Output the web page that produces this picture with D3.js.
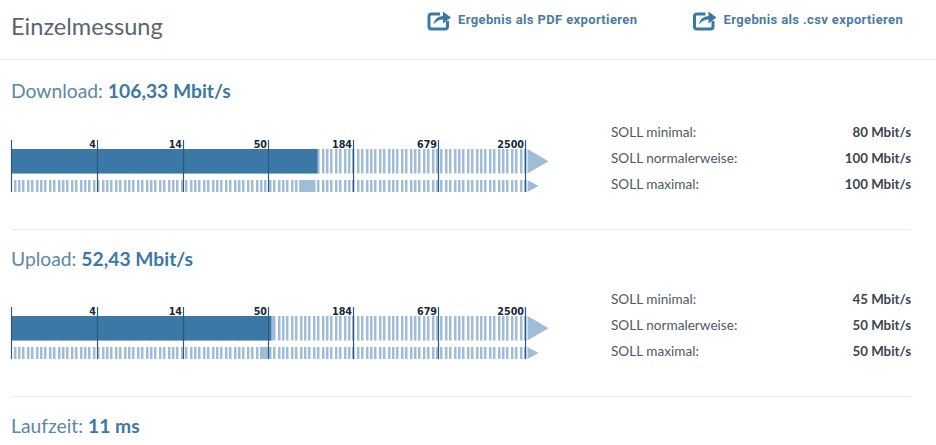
<!DOCTYPE html>
<html><head><meta charset="utf-8">
<script src="https://cdn.jsdelivr.net/npm/d3@7"></script>
<style>html,body{margin:0;padding:0;background:#fff;overflow:hidden}svg{display:block}</style>
</head><body><svg id="c" width="936" height="445"></svg>
<script>
const title = "Einzelmessung";
const exportLabels = ["Ergebnis als PDF exportieren", "Ergebnis als .csv exportieren"];
const tickValues = [4, 14, 50, 184, 679, 2500];
const scaleDomain = [1.1, 4, 14, 50, 184, 679, 2500];
const metricNames = ["Download", "Upload"];
const metricValues = [106.33, 52.43];
const metricLabels = ["106,33 Mbit/s", "52,43 Mbit/s"];
const sollNames = ["SOLL minimal:", "SOLL normalerweise:", "SOLL maximal:"];
const sollDownload = [80, 100, 100];
const sollUpload = [45, 50, 50];
const lastName = "Laufzeit";
const lastLabel = "11 ms";

const BLUE="#3c78a6", LIGHT="#9fbdd6", DARK="#2b5a7e", TEXT="#5a6670", INK="#16283a";
const FONT="Lato, 'Noto Sans', sans-serif";
const svg=d3.select("#c");
svg.style("font-family",FONT);

const x=d3.scaleLog().domain(scaleDomain).range([11.5,97.5,183,268.5,353.5,438.5,525.5]);

svg.append("text").attr("x",11).attr("y",35).attr("font-size",23.6).attr("fill",TEXT).text(title);
svg.append("line").attr("x1",0).attr("x2",936).attr("y1",59.5).attr("y2",59.5).attr("stroke","#eeeeee");

const icon=(g)=>{
  g.append("path").attr("d","M12 5H3.5Q1 5 1 7.5V17.5Q1 20 3.5 20H17Q19.5 20 19.5 17.5V12").attr("fill","none").attr("stroke",BLUE).attr("stroke-width",3);
  g.append("path").attr("d","M5.5 15.5Q6.5 7.5 15 7V2.5L23 8.5L15 14.5V10.5Q9.5 10.5 5.5 15.5Z").attr("fill",BLUE);
};
exportLabels.forEach((t,i)=>{
  const xs=[428,693.5][i];
  const g=svg.append("g").attr("transform",`translate(${xs},9)`);icon(g);
  svg.append("text").attr("x",[458,723.5][i]).attr("y",24).attr("font-size",13).attr("font-weight",700)
    .attr("font-family","Roboto").attr("letter-spacing",0.37).attr("fill","#4a7ba3").text(t);
});

function heading(y,name,label){
  const t=svg.append("text").attr("x",11).attr("y",y).attr("font-size",19.3).attr("fill","#5b87aa");
  t.append("tspan").text(name+": ");
  t.append("tspan").attr("font-weight",700).attr("fill",BLUE).text(label);
}
function meter(top,value,soll,names){
  const g=svg.append("g").attr("transform",`translate(0,${top})`);
  const x0=x.range()[0], x1=x.range()[6];
  const rows=[[9,24.5],[40,12]];
  rows.forEach(([y,h])=>g.append("g").selectAll("rect").data(d3.range(x0+2,x1-1,4.4)).join("rect")
    .attr("x",d=>Math.round(d)).attr("y",y).attr("width",2.5).attr("height",h).attr("fill",LIGHT));
  g.append("path").attr("d",`M${x1+2} 9L${x1+23} 21.2L${x1+2} 33.5Z`).attr("fill",LIGHT);
  g.append("path").attr("d",`M${x1+2} 40L${x1+13} 46L${x1+2} 52Z`).attr("fill",LIGHT);
  g.append("rect").attr("x",x0).attr("y",9).attr("width",x(value)-x0).attr("height",24.5).attr("fill",BLUE);
  g.append("rect").attr("x",x(value)).attr("y",9).attr("width",1.5).attr("height",24.5).attr("fill",LIGHT);
  g.append("rect").attr("x",x(soll[0])).attr("y",40).attr("width",x(soll[2])-x(soll[0])+1).attr("height",12).attr("fill",LIGHT);
  g.append("line").attr("x1",x0).attr("x2",x0).attr("y1",0).attr("y2",52).attr("stroke",DARK).attr("stroke-width",1.2);
  tickValues.forEach(v=>{
    const px=Math.floor(x(v))+.5;
    g.append("line").attr("x1",px).attr("x2",px).attr("y1",0).attr("y2",52).attr("stroke",DARK).attr("stroke-width",1.2);
    g.append("text").attr("x",px-1.5).attr("y",8).attr("text-anchor","end").attr("font-size",9.6).attr("font-weight",700)
      .attr("font-family","'DejaVu Sans'").attr("fill",INK).text(v);
  });
  names.forEach((n,i)=>{
    const y=top-3.5+[0,26,52][i];
    svg.append("text").attr("x",611).attr("y",y).attr("font-size",13.6).attr("fill","#4d5a66").text(n);
    svg.append("text").attr("x",911).attr("y",y).attr("text-anchor","end").attr("font-size",13.3).attr("font-weight",700).attr("fill","#3a4550").text(soll[i]+" Mbit/s");
  });
}
heading(98,metricNames[0],metricLabels[0]);
meter(140,metricValues[0],sollDownload,sollNames);
svg.append("line").attr("x1",11).attr("x2",911).attr("y1",229.5).attr("y2",229.5).attr("stroke","#e6ecf1");
heading(266,metricNames[1],metricLabels[1]);
meter(307,metricValues[1],sollUpload,sollNames);
svg.append("line").attr("x1",11).attr("x2",911).attr("y1",396.5).attr("y2",396.5).attr("stroke","#e6ecf1");
heading(433,lastName,lastLabel);
</script></body></html>
